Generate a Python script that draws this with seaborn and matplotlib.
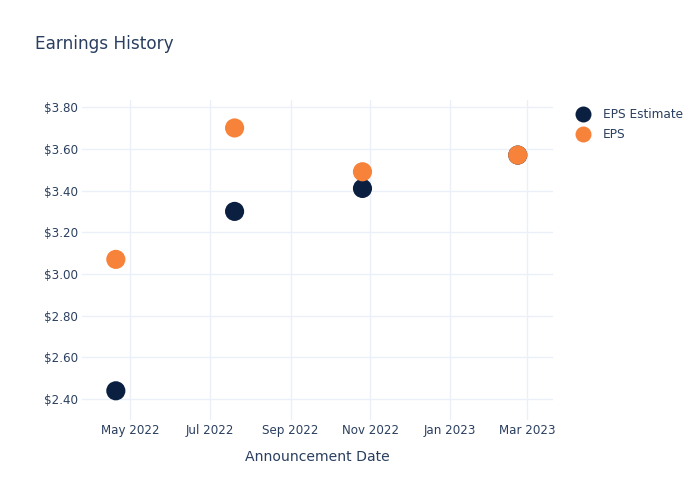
import matplotlib
matplotlib.use("Agg")
import matplotlib.pyplot as plt
import matplotlib.dates as mdates
import matplotlib.ticker as mticker
import seaborn as sns
import pandas as pd
from matplotlib.lines import Line2D

dates = ["2022-04-20", "2022-07-20", "2022-10-26", "2023-02-22"]
eps_estimate = [2.44, 3.30, 3.41, 3.57]
eps_actual = [3.07, 3.70, 3.49, 3.57]
series_names = ["EPS Estimate", "EPS"]
colors = ["#0b1f41", "#f7823a"]

df = pd.DataFrame({
    "date": pd.to_datetime(dates * 2),
    "value": eps_estimate + eps_actual,
    "series": [series_names[0]] * len(dates) + [series_names[1]] * len(dates),
})

sns.set_style("white")
plt.rcParams["font.family"] = ["DejaVu Sans"]
text_color = "#2a3f5f"
grid_color = "#ebf0f8"

fig = plt.figure(figsize=(7, 5), dpi=100)
ax = fig.add_axes([0.117, 0.16, 0.673, 0.64])

sns.scatterplot(data=df, x="date", y="value", hue="series", palette=colors,
                hue_order=series_names, s=190, edgecolor="none", linewidth=0,
                ax=ax, legend=False, zorder=3)

ax.set_xlim(pd.Timestamp("2022-03-25"), pd.Timestamp("2023-03-21"))
ax.set_ylim(2.30, 3.834)
ax.set_yticks([2.4, 2.6, 2.8, 3.0, 3.2, 3.4, 3.6, 3.8])
ax.yaxis.set_major_formatter(mticker.FuncFormatter(lambda v, p: f"${v:.2f}"))
ax.xaxis.set_major_locator(mdates.MonthLocator(bymonth=[1, 3, 5, 7, 9, 11]))
ax.xaxis.set_major_formatter(mdates.DateFormatter("%b %Y"))

ax.grid(True, color=grid_color, linewidth=1)
ax.set_axisbelow(True)
for s in ax.spines.values():
    s.set_visible(False)
ax.tick_params(axis="both", length=0, labelsize=8.6, colors=text_color)
ax.tick_params(axis="x", pad=3)
ax.tick_params(axis="y", pad=3)
ax.set_xlabel("Announcement Date", fontsize=10.1, color=text_color, labelpad=9)
ax.set_ylabel("")

fig.text(0.05, 0.912, "Earnings History", fontsize=12.2, color=text_color, va="center")

handles = [Line2D([], [], marker="o", linestyle="none", markersize=11.5,
                  markerfacecolor=c, markeredgecolor="none") for c in colors]
leg = fig.legend(handles, series_names, loc="upper left",
                 bbox_to_anchor=(0.822, 0.783), frameon=False, fontsize=8.7,
                 borderpad=0, borderaxespad=0,
                 handletextpad=1.1, labelspacing=0.55, handlelength=1.2)
for t in leg.get_texts():
    t.set_color(text_color)

fig.savefig("out.png", dpi=100)
